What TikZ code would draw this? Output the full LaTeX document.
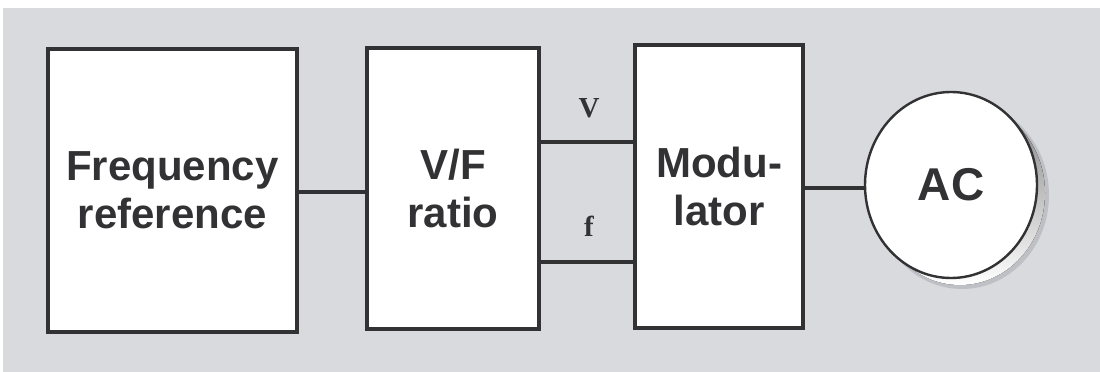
\documentclass[tikz,border=0pt]{standalone}
\usepackage{fontspec}
\setmainfont{Liberation Sans}
\newfontfamily\labelserif{Liberation Serif}
\usetikzlibrary{shapes.geometric}
\definecolor{panel}{RGB}{216,218,222}
\definecolor{ink}{RGB}{50,50,52}
\definecolor{shade}{RGB}{168,170,175}
\definecolor{shadesoft}{RGB}{190,192,197}
\tikzset{
  blockbox/.style={draw=ink, line width=3.4pt, fill=white, rectangle, inner sep=0pt,
    align=center, text=ink, font=\fontsize{42}{48}\selectfont\bfseries},
  wire/.style={draw=ink, line width=3.2pt},
  sig/.style={text=ink, font=\labelserif\fontsize{29}{30}\selectfont\bfseries},
}
\begin{document}
\begin{tikzpicture}[x=1pt, y=-1pt]
  \useasboundingbox (0,0) rectangle (1100,372);
  \fill[white] (0,0) rectangle (1100,372);
  \fill[panel] (3,8) rectangle (1100,372);

  % blocks
  \node[blockbox, minimum width=249pt, minimum height=283pt] (freq) at (172.5,190.5)
    {Frequency\\reference};
  \node[blockbox, minimum width=172pt, minimum height=281pt] (vf) at (453,188.5)
    {V/F\\ratio};
  \node[blockbox, minimum width=168pt, minimum height=283pt] (mod) at (719,186.5)
    {Modu-\\lator};

  % motor with soft drop shadow
  \fill[shadesoft] (962,195) ellipse [x radius=87pt, y radius=94pt];
  \fill[shade] (960,193) ellipse [x radius=85pt, y radius=92pt];
  \node[ellipse, draw=ink, line width=2.4pt, fill=white, inner sep=0pt,
    minimum width=172pt, minimum height=186pt, text=ink,
    font=\fontsize{46}{50}\selectfont\bfseries] (ac) at (951,185) {AC};

  % connections
  \draw[wire] (freq.east |- 0,192) -- (vf.west |- 0,192);
  \draw[wire] (vf.east |- 0,142) -- (mod.west |- 0,142);
  \draw[wire] (vf.east |- 0,262) -- (mod.west |- 0,262);
  \draw[wire] (mod.east |- 0,188) -- (ac.west |- 0,188);

  % signal labels
  \node[sig] (vlab) at (589,108) {V};
  \node[sig] (flab) at (589,226) {f};
\end{tikzpicture}
\end{document}
